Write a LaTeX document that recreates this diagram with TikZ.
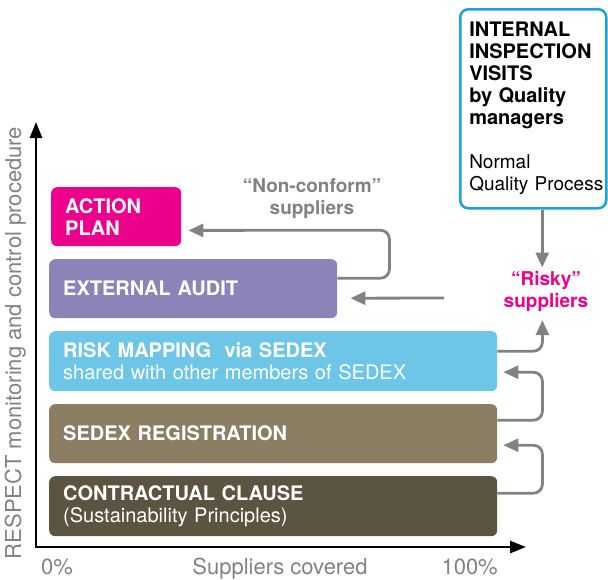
\documentclass[tikz,border=0pt]{standalone}
\usepackage{fontspec}
\setmainfont{TeX Gyre Heros}
\usetikzlibrary{arrows.meta,calc}
\definecolor{cMag}{HTML}{EC008C}
\definecolor{cPur}{HTML}{8A84B8}
\definecolor{cBlu}{HTML}{6DC5E8}
\definecolor{cTan}{HTML}{8C7E62}
\definecolor{cDrk}{HTML}{5B5440}
\definecolor{cCya}{HTML}{1DA1DB}
\definecolor{cGry}{HTML}{808285}
\newcommand\bxfont{\fontsize{20}{22}\selectfont\bfseries}
\newcommand\lblfont{\fontsize{22}{24}\selectfont}
\newcommand\topfont{\fontsize{19}{22}\selectfont}
\newcommand\topbold[1]{{\fontsize{20}{22}\selectfont\bfseries #1}}
\begin{document}
\begin{tikzpicture}[x=1pt,y=-1pt,
  box/.style={rounded corners=6pt, text=white, font=\bxfont, align=left,
    inner xsep=14pt, inner ysep=0pt, anchor=north west},
  garrow/.style={draw=cGry, line width=2.8pt, rounded corners=9pt,
    -{Triangle[length=15pt,width=13pt]}},
  axis/.style={draw=black, line width=2.6pt,
    {Triangle[length=16pt,width=12pt]}-{Triangle[length=16pt,width=12pt]}},
  lbl/.style={text=cGry, font=\lblfont, inner sep=0pt},
  tag/.style={font=\topfont\bfseries, align=center, inner sep=0pt}]
\useasboundingbox (0,0) rectangle (608,579);

% axes
\coordinate (ytip) at (36,122);
\coordinate (org) at (36,547);
\coordinate (xtip) at (526,547);
\draw[axis] (ytip) -- (org) -- (xtip);

% boxes
\node[box, fill=cMag, minimum width=130pt, text width=102pt, minimum height=59pt] (action) at (51,187) {ACTION\\PLAN};
\node[box, fill=cPur, minimum width=288pt, text width=260pt, minimum height=59pt] (audit) at (49,259) {EXTERNAL AUDIT};
\node[box, fill=cBlu, minimum width=448pt, text width=420pt, minimum height=60pt] (risk) at (49,331) {RISK MAPPING\ \ via SEDEX\\{\mdseries shared with other members of SEDEX}};
\node[box, fill=cTan, minimum width=448pt, text width=420pt, minimum height=59pt] (sedex) at (49,404) {SEDEX REGISTRATION};
\node[box, fill=cDrk, minimum width=448pt, text width=420pt, minimum height=60pt] (clause) at (49,476) {CONTRACTUAL CLAUSE\\{\mdseries (Sustainability Principles)}};

% top right box
\node[draw=cCya, line width=2.5pt, rounded corners=8pt, anchor=north west,
  minimum width=146pt, minimum height=199pt, inner xsep=9pt, inner ysep=0pt,
  text width=128pt, align=left, font=\topfont] (internal) at (459,8)
  {\topbold{INTERNAL}\\\topbold{INSPECTION}\\\topbold{VISITS}\\\topbold{by Quality}\\\topbold{managers}\\[22pt]Normal\\\mbox{Quality Process}};

% labels
\node[tag, text=cGry] (nonconf) at (312,199) {“Non-conform”\\suppliers};
\node[tag, text=cMag] (risky) at (546,291) {“Risky”\\suppliers};

\node[lbl, anchor=base west] (p0) at (41,574) {0\%};
\node[lbl, anchor=base] (sup) at (280,574) {Suppliers covered};
\node[lbl, anchor=base east] (p100) at (498,574) {100\%};
\node[lbl, rotate=90, anchor=base] (ylab) at (21,343) {RESPECT monitoring and control procedure};

% connectors
\draw[garrow] ([xshift=9pt]internal.south) -- ++(0,58);
\draw[garrow] ([yshift=10pt]risk.east) -- ++(45,0) -- ++(0,-31);
\draw[garrow] ([yshift=13.5pt]sedex.east) -- ++(45,0) -- ++(0,-48) -- ++(-39,0);
\draw[garrow] ([yshift=13pt]clause.east) -- ++(45,0) -- ++(0,-48) -- ++(-39,0);
\draw[garrow] ([yshift=10.5pt]audit.east) -- ++(52,0) -- ++(0,-48) -- ($(action.south east)+(7,-16)$);
\coordinate (src) at (444,298);
\draw[garrow] (src) -- ($(audit.east)+(13,9.5)$);
\end{tikzpicture}
\end{document}
